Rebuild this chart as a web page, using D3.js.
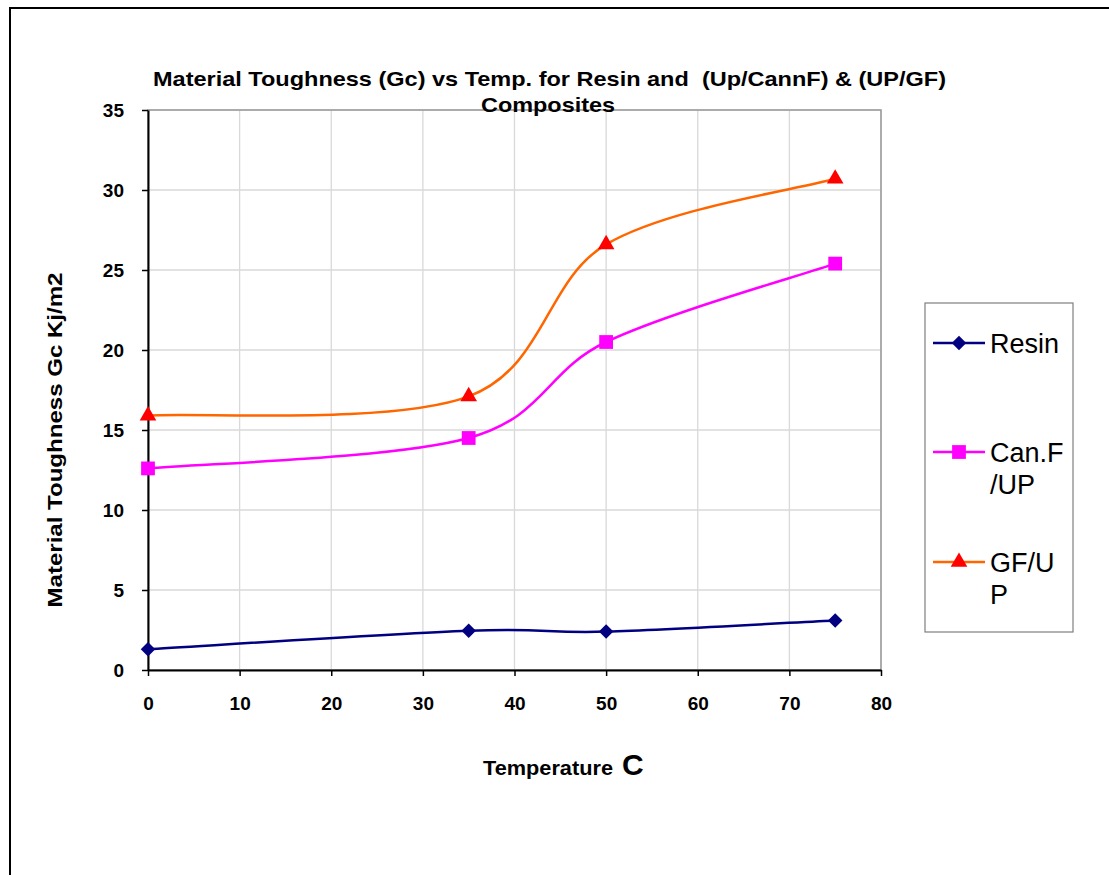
<!DOCTYPE html>
<html>
<head>
<meta charset="utf-8">
<script src="https://cdn.jsdelivr.net/npm/d3@7"></script>
<style>
  body { margin: 0; background: #fff; }
  text { font-family: "Liberation Sans", Arial, sans-serif; }
</style>
</head>
<body>
<script>
// temperatures (C)
var temps = [0, 35, 50, 75];
var seriesNames = ["Resin", "Can.F/UP", "GF/UP"];
var resin = [1.3, 2.45, 2.4, 3.1];
var canF = [12.6, 14.5, 20.5, 25.4];
var gfUp = [15.9, 17.1, 26.6, 30.7];
var xTicks = [0, 10, 20, 30, 40, 50, 60, 70, 80];
var yTicks = [0, 5, 10, 15, 20, 25, 30, 35];

var screen = {width: 1109, height: 875};
var margins = {left: 148, right: 228, top: 110, bottom: 205};
var graph = {
    width: screen.width - margins.left - margins.right,
    height: screen.height - margins.top - margins.bottom
};

var svg = d3.select("body").append("svg")
    .attr("width", screen.width)
    .attr("height", screen.height);

// outer chart border (runs off the page right and bottom)
svg.append("rect")
    .attr("x", 10).attr("y", 8)
    .attr("width", 1200).attr("height", 1000)
    .attr("fill", "none").attr("stroke", "#000").attr("stroke-width", 2);

var xScale = d3.scaleLinear().domain([0, 80]).range([0, graph.width]);
var yScale = d3.scaleLinear().domain([0, 35]).range([graph.height, 0]);

var plot = svg.append("g")
    .attr("transform", "translate(" + margins.left + "," + margins.top + ")");

// grid
plot.selectAll(".hgrid").data(yTicks).enter().append("line")
    .attr("x1", 0).attr("x2", graph.width)
    .attr("y1", function(d){ return yScale(d); })
    .attr("y2", function(d){ return yScale(d); })
    .attr("stroke", "#d9d9d9").attr("stroke-width", 1.3);
plot.selectAll(".vgrid").data(xTicks).enter().append("line")
    .attr("y1", 0).attr("y2", graph.height)
    .attr("x1", function(d){ return xScale(d); })
    .attr("x2", function(d){ return xScale(d); })
    .attr("stroke", "#d9d9d9").attr("stroke-width", 1.3);

// plot frame top/right
plot.append("rect")
    .attr("width", graph.width).attr("height", graph.height)
    .attr("fill", "none").attr("stroke", "#999").attr("stroke-width", 1.5);

// axes
var xAxis = d3.axisBottom(xScale).tickValues(xTicks).tickSize(6).tickSizeOuter(0).tickPadding(21);
var yAxis = d3.axisLeft(yScale).tickValues(yTicks).tickSize(6).tickSizeOuter(0).tickPadding(18);

var gx = plot.append("g")
    .attr("transform", "translate(0," + graph.height + ")")
    .call(xAxis);
var gy = plot.append("g").call(yAxis);

[gx, gy].forEach(function(g){
    g.select(".domain").attr("stroke", "#000").attr("stroke-width", 2);
    g.selectAll(".tick line").attr("stroke", "#000").attr("stroke-width", 1.5);
    g.selectAll(".tick text")
        .attr("fill", "#000")
        .attr("font-size", 19)
        .attr("font-weight", "bold")
        .attr("font-family", "'Liberation Sans', Arial, sans-serif");
});

var series = [
    {name: "Resin", values: resin, line: "#000080", fill: "#000080", shape: d3.symbolSquare, size: 105, rot: 45},
    {name: "Can.F/UP", values: canF, line: "#ff00ff", fill: "#ff00ff", shape: d3.symbolSquare, size: 190, rot: 0},
    {name: "GF/UP", values: gfUp, line: "#ff6600", fill: "#ff0000", shape: d3.symbolTriangle, size: 120, rot: 0}
];

// spreadsheet-style smoothing: end points repeated as their own neighbours
var smoothPath = function(pts){
    var p = d3.path();
    var n = pts.length;
    var at = function(i){ return pts[Math.max(0, Math.min(n - 1, i))]; };
    p.moveTo(pts[0][0], pts[0][1]);
    for (var i = 0; i < n - 1; i++) {
        var a = at(i - 1), b = at(i), c = at(i + 1), d = at(i + 2);
        p.bezierCurveTo(
            b[0] + (c[0] - a[0]) / 6, b[1] + (c[1] - a[1]) / 6,
            c[0] - (d[0] - b[0]) / 6, c[1] - (d[1] - b[1]) / 6,
            c[0], c[1]);
    }
    return p.toString();
};

series.forEach(function(s){
    var pts = temps.map(function(t, i){ return [xScale(t), yScale(s.values[i])]; });
    plot.append("path")
        .attr("d", smoothPath(pts))
        .attr("fill", "none")
        .attr("stroke", s.line)
        .attr("stroke-width", 2.5);
    plot.selectAll(null).data(pts).enter().append("path")
        .attr("d", d3.symbol().type(s.shape).size(s.size))
        .attr("transform", function(d){ return "translate(" + d[0] + "," + d[1] + ") rotate(" + s.rot + ")"; })
        .attr("fill", s.fill);
});

// title
svg.append("text")
    .attr("x", 153).attr("y", 86)
    .attr("textLength", 793).attr("lengthAdjust", "spacingAndGlyphs")
    .attr("xml:space", "preserve")
    .style("font-size", "21px").style("font-weight", "bold")
    .text("Material Toughness (Gc) vs Temp. for Resin and  (Up/CannF) & (UP/GF)");
svg.append("text")
    .attr("x", 481).attr("y", 112)
    .attr("textLength", 134).attr("lengthAdjust", "spacingAndGlyphs")
    .style("font-size", "21px").style("font-weight", "bold")
    .text("Composites");

// axis titles
svg.append("text")
    .attr("transform", "translate(62,440) rotate(-90)")
    .attr("text-anchor", "middle")
    .attr("textLength", 335).attr("lengthAdjust", "spacingAndGlyphs")
    .style("font-size", "21px").style("font-weight", "bold")
    .text("Material Toughness Gc Kj/m2");

svg.append("text")
    .attr("x", 483).attr("y", 775)
    .attr("textLength", 130).attr("lengthAdjust", "spacingAndGlyphs")
    .style("font-size", "20px").style("font-weight", "bold")
    .text("Temperature");
svg.append("text")
    .attr("x", 622).attr("y", 775)
    .style("font-size", "30px").style("font-weight", "bold")
    .text("C");

// legend
var legend = svg.append("g");
legend.append("rect")
    .attr("x", 925).attr("y", 303).attr("width", 148).attr("height", 329)
    .attr("fill", "none").attr("stroke", "#7f7f7f").attr("stroke-width", 1.2);

var legendRows = [
    {y: 343, lines: ["Resin"]},
    {y: 452, lines: ["Can.F", "/UP"]},
    {y: 562, lines: ["GF/U", "P"]}
];

series.forEach(function(s, i){
    var r = legendRows[i];
    legend.append("line")
        .attr("x1", 933).attr("x2", 985).attr("y1", r.y).attr("y2", r.y)
        .attr("stroke", s.line).attr("stroke-width", 2.5);
    legend.append("path")
        .attr("d", d3.symbol().type(s.shape).size(s.size))
        .attr("transform", "translate(959," + r.y + ") rotate(" + s.rot + ")")
        .attr("fill", s.fill);
    r.lines.forEach(function(t, j){
        legend.append("text")
            .attr("x", 990).attr("y", r.y + 10 + j * 32)
            .style("font-size", "27px")
            .text(t);
    });
});
</script>
</body>
</html>
